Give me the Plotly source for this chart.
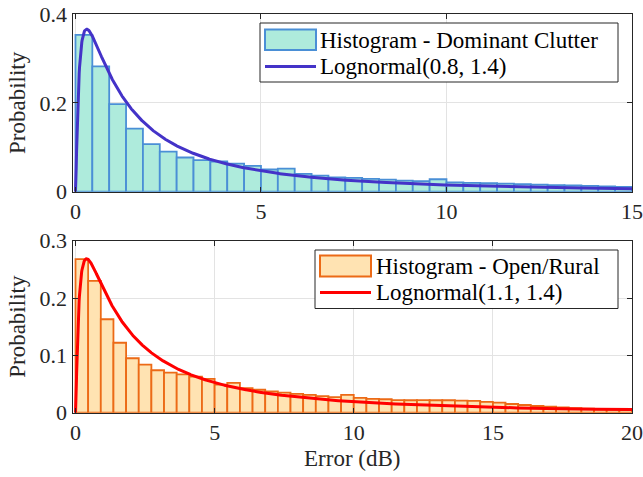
import numpy as np
import plotly.graph_objects as go

# ---------------- data ----------------
BIN_W = 5 / 11  # histogram bin width (dB)

top_probs = [0.353, 0.282, 0.197, 0.142, 0.107, 0.090, 0.077, 0.071, 0.068, 0.063,
             0.058, 0.050, 0.052, 0.040, 0.036, 0.032, 0.031, 0.029, 0.027, 0.025,
             0.024, 0.028, 0.021, 0.020, 0.019, 0.018, 0.017, 0.016, 0.015, 0.014,
             0.013, 0.012, 0.011]

bot_probs = [0.268, 0.230, 0.163, 0.122, 0.095, 0.084, 0.074, 0.070, 0.067, 0.063,
             0.059, 0.049, 0.052, 0.043, 0.040, 0.037, 0.035, 0.033, 0.031, 0.029,
             0.027, 0.031, 0.026, 0.024, 0.0235, 0.022, 0.0217, 0.022, 0.0217, 0.0217,
             0.021, 0.0205, 0.019, 0.0174, 0.0152, 0.0134, 0.0117, 0.0105, 0.0093, 0.0081,
             0.007, 0.0058, 0.0052, 0.0047]

top_label_hist = "Histogram - Dominant Clutter"
top_label_fit = "Lognormal(0.8, 1.4)"
bot_label_hist = "Histogram - Open/Rural"
bot_label_fit = "Lognormal(1.1, 1.4)"

# lognormal fit parameters (mu, sigma) used to draw the curves
top_mu, top_sigma = 0.72, 1.385
bot_mu, bot_sigma = 1.04, 1.40

top_xmax = 15
bot_xmax = 20

# ---------------- styling ----------------
W, H = 643, 477
FONT = "'Liberation Serif', 'Times New Roman', 'DejaVu Serif', serif"
FS_TICK = 22
FS_TXT = 23
AX = "#262626"
GRID = "#E3E3E3"

top_fill, top_edge, top_line = "#AEEBDC", "#4A8FD6", "#4433C8"
bot_fill, bot_edge, bot_line = "#FFE3B2", "#EC6A16", "#FF0000"


def lognpdf(x, mu, s):
    x = np.asarray(x, dtype=float)
    out = np.zeros_like(x)
    m = x > 0
    out[m] = np.exp(-(np.log(x[m]) - mu) ** 2 / (2 * s * s)) / (x[m] * s * np.sqrt(2 * np.pi))
    return out


def px(xp):
    return xp / W


def py(yp):
    return 1 - yp / H


fig = go.Figure()

# top histogram
tc = [(i + 0.5) * BIN_W for i in range(len(top_probs))]
fig.add_trace(go.Bar(x=tc, y=top_probs, width=BIN_W, xaxis="x", yaxis="y",
                     marker=dict(color=top_fill, line=dict(color=top_edge, width=1.8)),
                     name=top_label_hist, showlegend=False))
xt = np.linspace(0, top_xmax, 1500)
fig.add_trace(go.Scatter(x=xt, y=lognpdf(xt, top_mu, top_sigma), mode="lines",
                         line=dict(color=top_line, width=3), xaxis="x", yaxis="y",
                         name=top_label_fit, showlegend=False))

# bottom histogram
bc = [(i + 0.5) * BIN_W for i in range(len(bot_probs))]
fig.add_trace(go.Bar(x=bc, y=bot_probs, width=BIN_W, xaxis="x2", yaxis="y2",
                     marker=dict(color=bot_fill, line=dict(color=bot_edge, width=1.8)),
                     name=bot_label_hist, showlegend=False))
xb = np.linspace(0, bot_xmax, 2000)
fig.add_trace(go.Scatter(x=xb, y=lognpdf(xb, bot_mu, bot_sigma), mode="lines",
                         line=dict(color=bot_line, width=3), xaxis="x2", yaxis="y2",
                         name=bot_label_fit, showlegend=False))

axis_common = dict(ticks="inside", ticklen=5, tickcolor=AX, showline=True, linecolor=AX,
                   linewidth=1, mirror="ticks", showgrid=True, gridcolor=GRID, gridwidth=1,
                   zeroline=False, automargin=False,
                   tickfont=dict(family=FONT, size=FS_TICK, color=AX))

xdom = [72.5 / W, 632 / W]
fig.update_layout(
    width=W, height=H, autosize=False,
    margin=dict(l=0, r=0, t=0, b=0),
    paper_bgcolor="white", plot_bgcolor="white",
    showlegend=False, barmode="overlay",
    font=dict(family=FONT, size=FS_TICK, color="black"),
    xaxis=dict(domain=xdom, anchor="y", range=[-0.08, top_xmax],
               tickvals=[0, 5, 10, 15], **axis_common),
    yaxis=dict(domain=[py(191.7), py(14)], anchor="x", range=[0, 0.4],
               tickvals=[0, 0.2, 0.4], ticktext=["0", "0.2", "0.4"],
               title=dict(text="Probability", standoff=7,
                          font=dict(family=FONT, size=FS_TXT, color=AX)),
               **axis_common),
    xaxis2=dict(domain=xdom, anchor="y2", range=[-0.108, bot_xmax],
                tickvals=[0, 5, 10, 15, 20],
                title=dict(text="Error (dB)", standoff=5,
                           font=dict(family=FONT, size=FS_TXT, color=AX)),
                **axis_common),
    yaxis2=dict(domain=[py(412.7), py(240.7)], anchor="x2", range=[0, 0.3],
                tickvals=[0, 0.1, 0.2, 0.3], ticktext=["0", "0.1", "0.2", "0.3"],
                title=dict(text="Probability", standoff=7,
                           font=dict(family=FONT, size=FS_TXT, color=AX)),
                **axis_common),
)

shapes = []
annotations = []


def add_legend(box, patch, line_y, text_x, row_y, fill, edge, lcol, t1, t2):
    x0, y0, x1, y1 = box
    shapes.append(dict(type="rect", xref="paper", yref="paper", layer="above",
                       x0=px(x0), x1=px(x1), y0=py(y1), y1=py(y0),
                       fillcolor="white", line=dict(color=AX, width=1)))
    p0, q0, p1, q1 = patch
    shapes.append(dict(type="rect", xref="paper", yref="paper", layer="above",
                       x0=px(p0), x1=px(p1), y0=py(q1), y1=py(q0),
                       fillcolor=fill, line=dict(color=edge, width=2)))
    shapes.append(dict(type="line", xref="paper", yref="paper", layer="above",
                       x0=px(p0), x1=px(p1), y0=py(line_y), y1=py(line_y),
                       line=dict(color=lcol, width=3)))
    for t, yy in ((t1, row_y[0]), (t2, row_y[1])):
        annotations.append(dict(text=t, xref="paper", yref="paper", x=px(text_x), y=py(yy),
                                xanchor="left", yanchor="middle", showarrow=False,
                                font=dict(family=FONT, size=FS_TXT, color="black")))


add_legend((260, 23, 618, 82), (265, 29.5, 316, 50), 66.5, 318, (40, 66.5),
           top_fill, top_edge, top_line, top_label_hist, top_label_fit)
add_legend((315, 250, 618, 308.5), (320, 255.5, 371, 276.5), 292.5, 374, (266, 292.5),
           bot_fill, bot_edge, bot_line, bot_label_hist, bot_label_fit)

fig.update_layout(shapes=shapes, annotations=annotations)

fig.write_html("out.html")
